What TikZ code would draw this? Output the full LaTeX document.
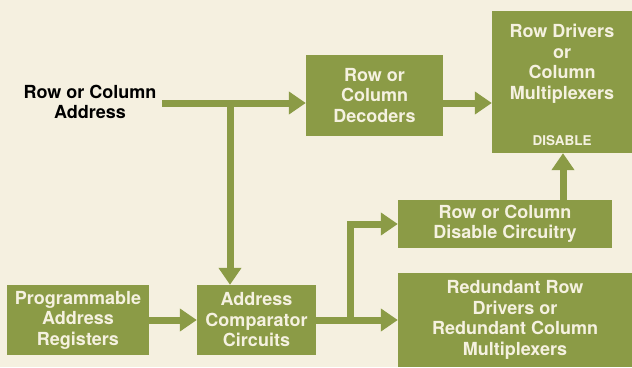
\documentclass[tikz,border=0pt]{standalone}
\usepackage{fontspec}
\setmainfont{TeX Gyre Heros}
\usetikzlibrary{arrows.meta}
\definecolor{paper}{RGB}{245,240,224}
\definecolor{olive}{RGB}{139,155,70}
\definecolor{boxtext}{RGB}{245,241,224}
\tikzset{
  blk/.style={fill=olive, draw=none, inner sep=0pt, align=center,
    text=boxtext, font=\fontsize{18}{20.5}\selectfont\bfseries},
  flow/.style={draw=olive, line width=7pt,
    -{Triangle[width=22pt,length=17pt]}},
}
\begin{document}
\begin{tikzpicture}[x=1pt, y=-1pt]
  \fill[paper] (0,0) rectangle (632,367);
  \useasboundingbox (0,0) rectangle (632,367);

  % blocks
  \node[blk, minimum width=137pt, minimum height=81pt] (dec) at (374.5,95.5)
    {Row or\\Column\\Decoders};
  \node[blk, minimum width=140pt, minimum height=142pt] (drv) at (562,82) {};
  \node[blk, fill=none] (drvtext) at (562,64)
    {Row Drivers\\or\\Column\\Multiplexers};
  \node[blk, fill=none, font=\fontsize{13.5}{15}\selectfont\bfseries] (dis) at (562,141) {DISABLE};
  \node[blk, minimum width=214pt, minimum height=48pt] (disc) at (505,224)
    {Row or Column\\Disable Circuitry};
  \node[blk, minimum width=234pt, minimum height=94pt] (red) at (515,320)
    {Redundant Row\\Drivers or\\Redundant Column\\Multiplexers};
  \node[blk, minimum width=142pt, minimum height=70pt] (par) at (78,320)
    {Programmable\\Address\\Registers};
  \node[blk, minimum width=119pt, minimum height=70pt] (ac) at (256.5,320)
    {Address\\Comparator\\Circuits};

  % input label
  \node[align=center, font=\fontsize{18}{20.5}\selectfont\bfseries, text=black]
    (addr) at (90,102) {Row or Column\\Address};

  % connectors
  \coordinate (in) at (162,103);
  \coordinate (tee) at (230,103);
  \coordinate (fork) at (350,320);
  \coordinate (up) at (563,200);
  \draw[flow] (in) -- (dec.west |- in);
  \draw[flow] (tee) -- (tee |- ac.north);
  \draw[flow] (dec.east |- in) -- (drv.west |- in);
  \draw[flow] (par.east) -- (ac.west);
  \draw[flow] (ac.east) -- (red.west |- ac.east);
  \draw[flow] (fork) |- (disc.west);
  \draw[flow] (up) -- (up |- drv.south);
\end{tikzpicture}
\end{document}
